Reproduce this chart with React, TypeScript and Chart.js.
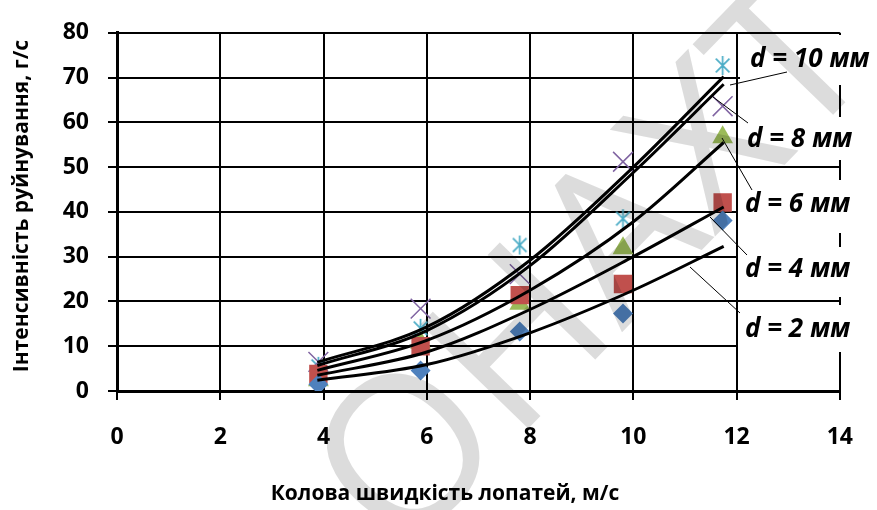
import React, { useEffect, useRef } from 'react';
import { Chart, registerables } from 'chart.js';

Chart.register(...registerables);

// ---- data ----
const xTickValues = [0, 2, 4, 6, 8, 10, 12, 14];
const yTickValues = [0, 10, 20, 30, 40, 50, 60, 70, 80];

const measuredSpeed = [3.9, 5.88, 7.8, 9.8, 11.73];
const intensityD2 = [1.5, 4.6, 13.3, 17.3, 38.1];
const intensityD4 = [3.8, 10.0, 21.4, 23.9, 42.1];
const intensityD6 = [2.4, 10.8, 19.5, 31.9, 56.7];
const intensityD8 = [6.5, 18.4, 26.1, 51.2, 63.6];
const intensityD10 = [5.5, 14.0, 32.6, 38.5, 72.7];

const trendSpeed = [3.88, 6, 8, 10, 11.75];
const trendD2 = [2.4, 5.9, 13.0, 22.5, 32.3];
const trendD4 = [3.5, 8.7, 18.2, 30.0, 41.1];
const trendD6 = [4.6, 11.3, 22.5, 37.8, 55.5];
const trendD8 = [5.7, 13.5, 28.0, 48.8, 68.5];
const trendD10 = [6.4, 14.3, 29.2, 50.0, 70.2];

const seriesNames = ['d = 2 мм', 'd = 4 мм', 'd = 6 мм', 'd = 8 мм', 'd = 10 мм'];
const xTitle = 'Колова швидкість лопатей, м/с';
const yTitle = 'Інтенсивність руйнування, г/с';
const watermarkText = 'ОНАХТ';

// ---- layout / style constants ----
const FONT = '"Open Sans", "DejaVu Sans", sans-serif';
// label boxes: [x, y, w, h], text anchor [x, y], leader [x1, y1, x2, y2]  (d2 .. d10)
const labelLayout = [
  { box: [738, 305, 139, 47], text: [745, 330], leader: [740, 313, 690, 267] },
  { box: [738, 247, 139, 50], text: [745, 270], leader: [747, 255, 710, 217] },
  { box: [738, 180, 139, 53], text: [745, 205], leader: [752, 190, 722, 138] },
  { box: [738, 117, 139, 43], text: [747, 140], leader: [748, 123, 713, 97] },
  { box: [740, 35, 137, 50], text: [750, 60], leader: [787, 72, 730, 85] },
];

function makeAsterisk(color: string, size: number) {
  const c = document.createElement('canvas');
  c.width = size;
  c.height = size;
  const g = c.getContext('2d')!;
  g.strokeStyle = color;
  g.lineWidth = 1.7;
  const m = size / 2;
  const r = size / 2 - 1;
  const d = r * 0.72;
  g.beginPath();
  g.moveTo(m, m - r);
  g.lineTo(m, m + r);
  g.moveTo(m - d, m - d);
  g.lineTo(m + d, m + d);
  g.moveTo(m + d, m - d);
  g.lineTo(m - d, m + d);
  g.stroke();
  return c;
}

const pts = (xs: number[], ys: number[]) => xs.map((x, i) => ({ x, y: ys[i] }));

const decorPlugin = {
  id: 'decor',
  beforeDraw(chart: any) {
    const ctx = chart.ctx;
    ctx.save();
    ctx.fillStyle = '#ffffff';
    ctx.fillRect(0, 0, chart.width, chart.height);
    ctx.restore();
  },
  beforeDatasetsDraw(chart: any) {
    const ctx = chart.ctx;
    ctx.save();
    ctx.fillStyle = '#ffffff';
    labelLayout.forEach((l) => {
      ctx.fillRect(l.box[0], l.box[1], l.box[2], l.box[3]);
    });
    ctx.restore();
  },
  afterDatasetsDraw(chart: any) {
    const ctx = chart.ctx;
    ctx.save();
    // leader lines
    ctx.strokeStyle = '#000';
    ctx.lineWidth = 1;
    labelLayout.forEach((l) => {
      ctx.beginPath();
      ctx.moveTo(l.leader[0], l.leader[1]);
      ctx.lineTo(l.leader[2], l.leader[3]);
      ctx.stroke();
    });
    // series labels
    ctx.fillStyle = '#000';
    ctx.font = `italic bold 26px ${FONT}`;
    ctx.textAlign = 'left';
    ctx.textBaseline = 'middle';
    labelLayout.forEach((l, i) => {
      ctx.fillText(seriesNames[i], l.text[0], l.text[1]);
    });
    // axis titles
    ctx.font = `bold 21px ${FONT}`;
    ctx.textAlign = 'center';
    ctx.fillText(xTitle, 445, 494);
    ctx.translate(22, 206);
    ctx.rotate(-Math.PI / 2);
    ctx.fillText(yTitle, 0, 0);
    ctx.restore();
  },
  afterDraw(chart: any) {
    const ctx = chart.ctx;
    ctx.save();
    ctx.globalCompositeOperation = 'multiply';
    ctx.translate(597, 272);
    ctx.rotate(-0.8);
    ctx.fillStyle = '#dcdcdc';
    ctx.font = `400 210px ${FONT}`;
    ctx.textAlign = 'center';
    ctx.textBaseline = 'middle';
    ctx.fillText(watermarkText, 0, 0);
    ctx.restore();
  },
};

export default function App() {
  const ref = useRef<HTMLCanvasElement | null>(null);

  useEffect(() => {
    document.body.style.margin = '0';
    const canvas = ref.current!;
    const asterisk = makeAsterisk('#4BACC6', 21);

    const trend = (ys: number[]) => ({
      data: pts(trendSpeed, ys),
      showLine: true,
      pointRadius: 0,
      borderColor: '#000000',
      borderWidth: 3,
      cubicInterpolationMode: 'monotone',
      order: 0,
    });

    const chart = new Chart(canvas, {
      type: 'scatter',
      data: {
        datasets: [
          { label: seriesNames[0], data: pts(measuredSpeed, intensityD2), pointStyle: 'rectRot', pointRadius: 10, backgroundColor: '#4F81BD', borderWidth: 0, order: 1 },
          { label: seriesNames[1], data: pts(measuredSpeed, intensityD4), pointStyle: 'rect', pointRadius: 13, backgroundColor: '#C0504D', borderWidth: 0, order: 1 },
          { label: seriesNames[2], data: pts(measuredSpeed, intensityD6), pointStyle: 'triangle', pointRadius: 12, backgroundColor: '#9BBB59', borderWidth: 0, order: 1 },
          { label: seriesNames[3], data: pts(measuredSpeed, intensityD8), pointStyle: 'crossRot', pointRadius: 14, borderColor: '#8064A2', backgroundColor: '#8064A2', borderWidth: 1.5, order: 1 },
          { label: seriesNames[4], data: pts(measuredSpeed, intensityD10), pointStyle: asterisk, pointRadius: 10, borderColor: '#4BACC6', backgroundColor: '#4BACC6', order: 1 },
          trend(trendD2),
          trend(trendD4),
          trend(trendD6),
          trend(trendD8),
          trend(trendD10),
        ] as any,
      },
      options: {
        responsive: false,
        animation: false,
        devicePixelRatio: 1,
        layout: { padding: { left: 0, top: 25, right: 34, bottom: 0 } },
        plugins: { legend: { display: false }, tooltip: { enabled: false } },
        scales: {
          x: {
            type: 'linear',
            min: 0,
            max: 14,
            afterBuildTicks: (s: any) => {
              s.ticks = xTickValues.map((v) => ({ value: v }));
            },
            afterFit: (s: any) => {
              s.height = 119;
            },
            ticks: {
              color: '#000',
              font: { family: FONT, size: 23, weight: 'bold' },
              padding: 24,
              maxRotation: 0,
              autoSkip: false,
            },
            grid: { color: '#000', lineWidth: 2, tickLength: 9, tickColor: '#000', tickWidth: 2 },
            border: { display: true, color: '#000', width: 3 },
          },
          y: {
            type: 'linear',
            min: 0,
            max: 80,
            afterBuildTicks: (s: any) => {
              s.ticks = yTickValues.map((v) => ({ value: v }));
            },
            afterFit: (s: any) => {
              s.width = 117;
            },
            ticks: {
              color: '#000',
              font: { family: FONT, size: 23, weight: 'bold' },
              padding: 19,
              autoSkip: false,
            },
            grid: { color: '#000', lineWidth: 2, tickLength: 9, tickColor: '#000', tickWidth: 2 },
            border: { display: true, color: '#000', width: 3 },
          },
        },
      } as any,
      plugins: [decorPlugin],
    });
    return () => chart.destroy();
  }, []);

  return (
    <div style={{ position: 'absolute', left: 0, top: 0, width: 877, height: 510 }}>
      <canvas ref={ref} width={877} height={510} />
    </div>
  );
}
